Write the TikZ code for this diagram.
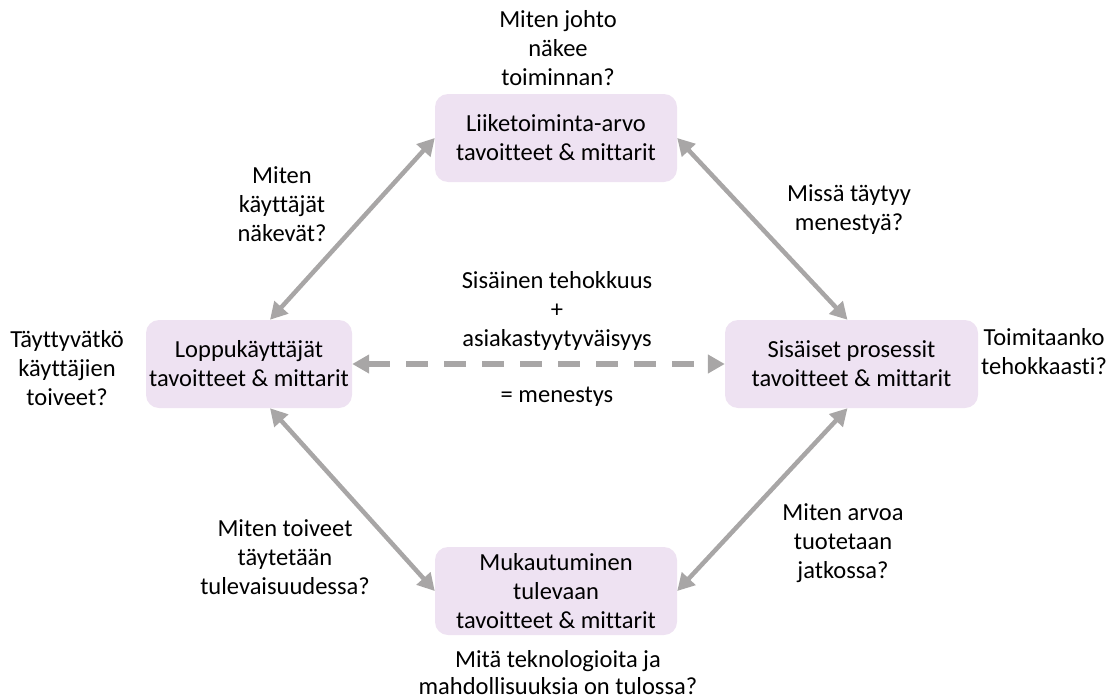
\documentclass[tikz,border=0pt]{standalone}
\usepackage{fontspec}
\setmainfont{Carlito}[Ligatures=NoCommon]
\usetikzlibrary{arrows.meta}
\definecolor{boxfill}{RGB}{238,226,242}
\definecolor{linkgray}{RGB}{168,166,166}
\tikzset{
  goalbox/.style={fill=boxfill, rounded corners=13pt, minimum height=88pt,
    align=center, inner sep=0pt, font=\fontsize{24.5}{29}\selectfont},
  question/.style={align=center, inner sep=0pt, font=\fontsize{24.5}{29}\selectfont},
  biarrow/.style={draw=linkgray, line width=4.5pt,
    {Triangle[length=17pt,width=18pt]}-{Triangle[length=17pt,width=18pt]}},
  dasharrow/.style={draw=linkgray, line width=6.5pt, dash pattern=on 22pt off 16pt,
    {Triangle[length=17pt,width=18pt]}-{Triangle[length=17pt,width=18pt]}}
}
\begin{document}
\begin{tikzpicture}[x=1pt,y=-1pt]
  \useasboundingbox (0,0) rectangle (1114,699);

  % four perspectives
  \node[goalbox, minimum width=242pt] (tb) at (556,138) {Liiketoiminta-arvo\\tavoitteet \& mittarit};
  \node[goalbox, minimum width=206pt] (lb) at (249,364) {Loppukäyttäjät\\tavoitteet \& mittarit};
  \node[goalbox, minimum width=253pt] (rb) at (851.5,364) {Sisäiset prosessit\\tavoitteet \& mittarit};
  \node[goalbox, minimum width=242pt] (bb) at (556,591) {Mukautuminen\\tulevaan\\tavoitteet \& mittarit};

  % links between perspectives
  \draw[biarrow] ([xshift=21pt]lb.north) -- (tb.west);
  \draw[biarrow] (tb.east) -- ([xshift=-4pt]rb.north);
  \draw[biarrow] ([xshift=21pt]lb.south) -- (bb.west);
  \draw[biarrow] ([xshift=-4pt]rb.south) -- (bb.east);
  \draw[dasharrow] (lb.east) -- (rb.west);

  % guiding questions
  \node[question] (qt) at (558,48) {Miten johto\\näkee\\toiminnan?};
  \node[question] (qtl) at (282,204) {Miten\\käyttäjät\\näkevät?};
  \node[question] (qtr) at (849,210) {Missä täytyy\\menestyä?};
  \node[question] (mid) at (557,311) {Sisäinen tehokkuus\\+\\asiakastyytyväisyys};
  \node[question] (eq) at (557,397) {= menestys};
  \node[question] (ql) at (67,368) {Täyttyvätkö\\käyttäjien\\toiveet?};
  \node[question] (qr) at (1044,352) {Toimitaanko\\tehokkaasti?};
  \node[question] (qbl) at (285,557) {Miten toiveet\\täytetään\\tulevaisuudessa?};
  \node[question] (qbr) at (843,543) {Miten arvoa\\tuotetaan\\jatkossa?};
  \node[question, font=\fontsize{24.5}{27}\selectfont] (qb) at (558,673) {Mitä teknologioita ja\\mahdollisuuksia on tulossa?};
\end{tikzpicture}
\end{document}
